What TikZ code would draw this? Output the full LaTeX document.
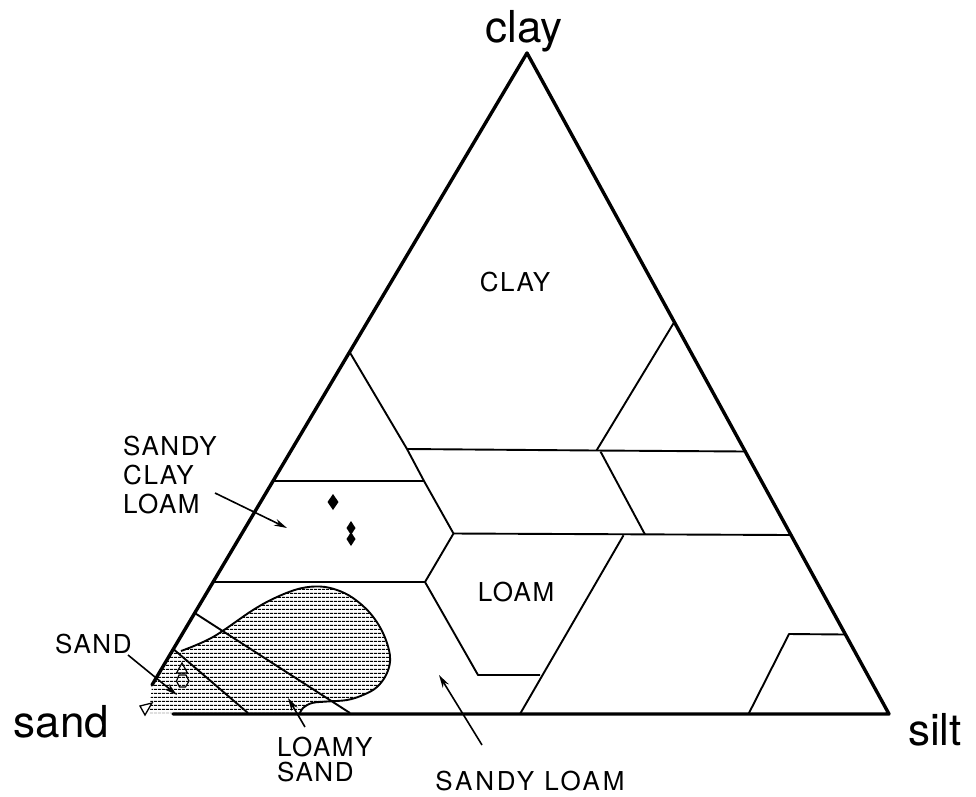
\documentclass[tikz,border=0pt]{standalone}
\usepackage{fontspec}
\setmainfont{TeX Gyre Heros}
\newfontfamily\labfont[LetterSpace=6]{TeX Gyre Heros}
\newfontfamily\widelabfont[LetterSpace=11]{TeX Gyre Heros}
\usetikzlibrary{arrows.meta,patterns.meta}
\begin{document}
\begin{tikzpicture}[x=1pt,y=-1pt,
  outer/.style={line width=3.4pt, line join=round, line cap=round},
  inner/.style={line width=1.9pt, line join=round},
  lab/.style={font=\labfont\fontsize{26}{29}\selectfont, inner sep=0pt},
  widelab/.style={font=\widelabfont\fontsize{26}{29}\selectfont, inner sep=0pt},
  big/.style={font=\fontsize{44}{48}\selectfont, inner sep=0pt},
  ptr/.style={line width=1.6pt, -{Stealth[length=13pt,width=7pt]}},
  hatch/.style={pattern={Lines[angle=0,distance=4pt,line width=1.25pt]}},
]
\useasboundingbox (0,0) rectangle (976,796);

% corner points of the triangle
\coordinate (C) at (527,53);
\coordinate (Lend) at (152,685);
\coordinate (B0) at (173,714);
\coordinate (Si) at (889,714);

% hatched area
\fill[hatch] (149,713) -- (152,686) -- (172,652)
  -- plot[smooth, tension=0.6] coordinates {(181,651) (213,637) (253,610) (277,597) (300,588.5) (320,586.5) (337,590) (353,598) (370,613) (383,633) (390,656) (387,673) (377,687) (363,695) (347,700) (327,701.5) (312,703) (303,708) (300,713)}
  -- cycle;
\draw[inner] plot[smooth, tension=0.6] coordinates {(181,651) (213,637) (253,610) (277,597) (300,588.5) (320,586.5) (337,590) (353,598) (370,613) (383,633) (390,656) (387,673) (377,687) (363,695) (347,700) (327,701.5) (312,703) (303,708) (300,713)};

% outer triangle
\draw[outer] (Lend) -- (C) -- (Si) -- (B0);

% inner boundaries
\draw[inner] (349.6,352) -- (407,449) -- (424,481) -- (453.5,533.5) -- (425,582) -- (478,675) -- (540,675);
\draw[inner] (407,449) -- (596.5,450.5) -- (745.3,451.5);
\draw[inner] (674.3,322) -- (596.5,450.5);
\draw[inner] (600.5,451.5) -- (645,534.5);
\draw[inner] (273,481) -- (424,481);
\draw[inner] (213,582) -- (425,582);
\draw[inner] (453.5,533.5) -- (791,535);
\draw[inner] (623.5,535.3) -- (520,714);
\draw[inner] (748.5,714) -- (789,634) -- (845.5,634.5);
\draw[inner] (194.7,613) -- (350,713);
\draw[inner] (173.3,649) -- (248,713);

% data markers
\fill (333,494) -- (338.5,502) -- (333,510) -- (327.5,502) -- cycle;
\fill (351,521) -- (355.5,528) -- (351,535) -- (346.5,528) -- cycle;
\fill (351,532) -- (355.5,539) -- (351,546) -- (346.5,539) -- cycle;
\draw[line width=1.2pt] (182,663) -- (187.5,673) -- (176.5,673) -- cycle;
\draw[line width=1.2pt] (179,675) -- (186,675) -- (189,681) -- (185.5,687) -- (179.5,687) -- (176.5,681) -- cycle;
\draw[line width=1.3pt] (140,706) -- (152,703) -- (145,715) -- cycle;

% axis labels
\node[big, anchor=base] (clay) at (524,42) {clay};
\node[big, anchor=base] (sand) at (61.5,737) {sand};
\node[big, anchor=base] (silt) at (935,745) {silt};

% region labels
\node[lab, anchor=base] (CLAY) at (515,291) {CLAY};
\node[lab, anchor=base] (LOAM) at (516,601.5) {LOAM};
\node[lab, anchor=base west] (scl1) at (123,455) {SANDY};
\node[lab, anchor=base west] (scl2) at (123,484) {CLAY};
\node[lab, anchor=base west] (scl3) at (123,513) {LOAM};
\node[lab, anchor=base west] (sandlab) at (55,653) {SAND};
\node[lab, anchor=base west] (ls1) at (277,756.5) {LOAMY};
\node[lab, anchor=base west] (ls2) at (277,781.5) {SAND};
\node[widelab, anchor=base] (sl) at (530,790) {SANDY LOAM};

% pointers
\coordinate (sandT) at (128,655);
\coordinate (sandH) at (177,695);
\coordinate (sclT) at (215,493);
\coordinate (sclH) at (287,528);
\coordinate (slT) at (482,745);
\coordinate (slH) at (439,675);
\coordinate (lsT) at (305,727);
\coordinate (lsH) at (288,698);
\draw[ptr] (sandT) -- (sandH);
\draw[ptr] (sclT) -- (sclH);
\draw[ptr] (slT) -- (slH);
\draw[ptr] (lsT) -- (lsH);
\end{tikzpicture}
\end{document}
